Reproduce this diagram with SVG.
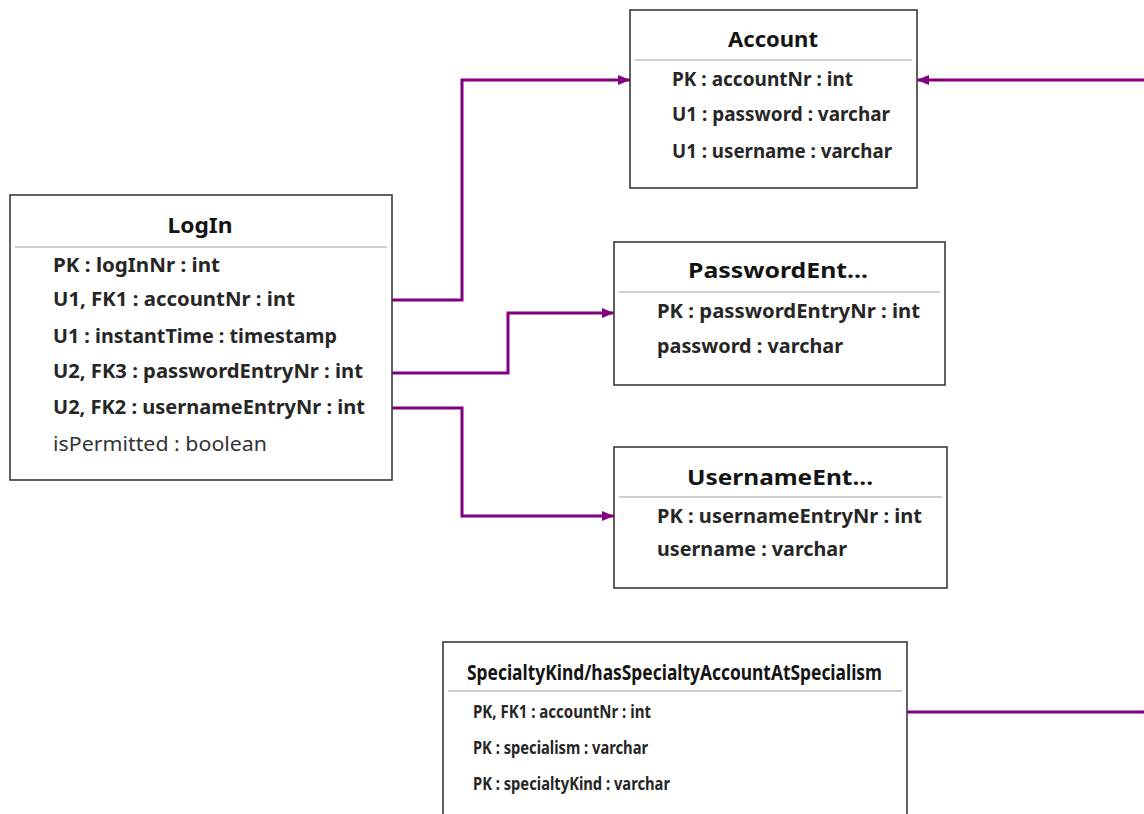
<svg xmlns="http://www.w3.org/2000/svg" width="1144" height="814" viewBox="0 0 1144 814">
<style>
.box{fill:#ffffff;stroke:#3a3a3a;stroke-width:1.6}
.sep{stroke:#cfcfcf;stroke-width:2}
.title{font-family:"Noto Sans","Open Sans","DejaVu Sans",sans-serif;font-weight:bold;font-size:22px;fill:#141414}
.row{font-family:"Noto Sans","Open Sans","DejaVu Sans",sans-serif;font-weight:bold;font-size:19px;fill:#262626}
.rowc{font-family:"Noto Sans","Open Sans","DejaVu Sans",sans-serif;font-weight:bold;font-size:18px;fill:#262626}
.plain{font-family:"Noto Sans","Open Sans","DejaVu Sans",sans-serif;font-weight:normal;font-size:19px;fill:#333333}
.conn{fill:none;stroke:#800080;stroke-width:3;marker-end:url(#arr)}
</style>
<defs>
<marker id="arr" markerUnits="userSpaceOnUse" markerWidth="14" markerHeight="12" refX="12" refY="6" orient="auto">
<path d="M0,1 L12,6 L0,11 Z" fill="#800080"/>
</marker>
</defs>
<rect width="1144" height="814" fill="#ffffff"/>

<g id="connectors">
<path class="conn" d="M392,300 H462 V80 H630"/>
<path class="conn" d="M392,373 H508 V313 H614"/>
<path class="conn" d="M392,408 H462 V516 H614"/>
<path class="conn" d="M907,712 H1146 V80 H917"/>
</g>

<g id="LogIn">
<rect class="box" x="10" y="195" width="382" height="285"/>
<line class="sep" x1="15" y1="247" x2="387" y2="247"/>
<text class="title" x="200" y="233" text-anchor="middle" textLength="65" lengthAdjust="spacingAndGlyphs">LogIn</text>
<text class="row" x="53" y="272" textLength="167" lengthAdjust="spacingAndGlyphs">PK : logInNr : int</text>
<text class="row" x="53" y="306" textLength="242" lengthAdjust="spacingAndGlyphs">U1, FK1 : accountNr : int</text>
<text class="row" x="53" y="343" textLength="284" lengthAdjust="spacingAndGlyphs">U1 : instantTime : timestamp</text>
<text class="row" x="53" y="378" textLength="310" lengthAdjust="spacingAndGlyphs">U2, FK3 : passwordEntryNr : int</text>
<text class="row" x="53" y="414" textLength="312" lengthAdjust="spacingAndGlyphs">U2, FK2 : usernameEntryNr : int</text>
<text class="plain" x="53" y="451" textLength="214" lengthAdjust="spacingAndGlyphs">isPermitted : boolean</text>
</g>

<g id="Account">
<rect class="box" x="630" y="10" width="287" height="178"/>
<line class="sep" x1="635" y1="60" x2="912" y2="60"/>
<text class="title" x="773" y="47" text-anchor="middle" textLength="90" lengthAdjust="spacingAndGlyphs">Account</text>
<text class="row" x="672" y="86" textLength="181" lengthAdjust="spacingAndGlyphs">PK : accountNr : int</text>
<text class="row" x="672" y="121" textLength="218" lengthAdjust="spacingAndGlyphs">U1 : password : varchar</text>
<text class="row" x="672" y="158" textLength="220" lengthAdjust="spacingAndGlyphs">U1 : username : varchar</text>
</g>

<g id="PasswordEntry">
<rect class="box" x="614" y="242" width="331" height="143"/>
<line class="sep" x1="619" y1="292" x2="940" y2="292"/>
<text class="title" x="778" y="278" text-anchor="middle" textLength="180" lengthAdjust="spacingAndGlyphs">PasswordEnt...</text>
<text class="row" x="657" y="318" textLength="263" lengthAdjust="spacingAndGlyphs">PK : passwordEntryNr : int</text>
<text class="row" x="657" y="353" textLength="186" lengthAdjust="spacingAndGlyphs">password : varchar</text>
</g>

<g id="UsernameEntry">
<rect class="box" x="614" y="447" width="333" height="141"/>
<line class="sep" x1="619" y1="497" x2="942" y2="497"/>
<text class="title" x="780" y="485" text-anchor="middle" textLength="186" lengthAdjust="spacingAndGlyphs">UsernameEnt...</text>
<text class="row" x="657" y="523" textLength="265" lengthAdjust="spacingAndGlyphs">PK : usernameEntryNr : int</text>
<text class="row" x="657" y="556" textLength="190" lengthAdjust="spacingAndGlyphs">username : varchar</text>
</g>

<g id="SpecialtyKind">
<rect class="box" x="443" y="642" width="464" height="190"/>
<line class="sep" x1="448" y1="691" x2="902" y2="691"/>
<text class="title" x="467" y="680" textLength="415" lengthAdjust="spacingAndGlyphs">SpecialtyKind/hasSpecialtyAccountAtSpecialism</text>
<text class="rowc" x="473" y="718" textLength="178" lengthAdjust="spacingAndGlyphs">PK, FK1 : accountNr : int</text>
<text class="rowc" x="473" y="754" textLength="175" lengthAdjust="spacingAndGlyphs">PK : specialism : varchar</text>
<text class="rowc" x="473" y="790" textLength="197" lengthAdjust="spacingAndGlyphs">PK : specialtyKind : varchar</text>
</g>
</svg>
